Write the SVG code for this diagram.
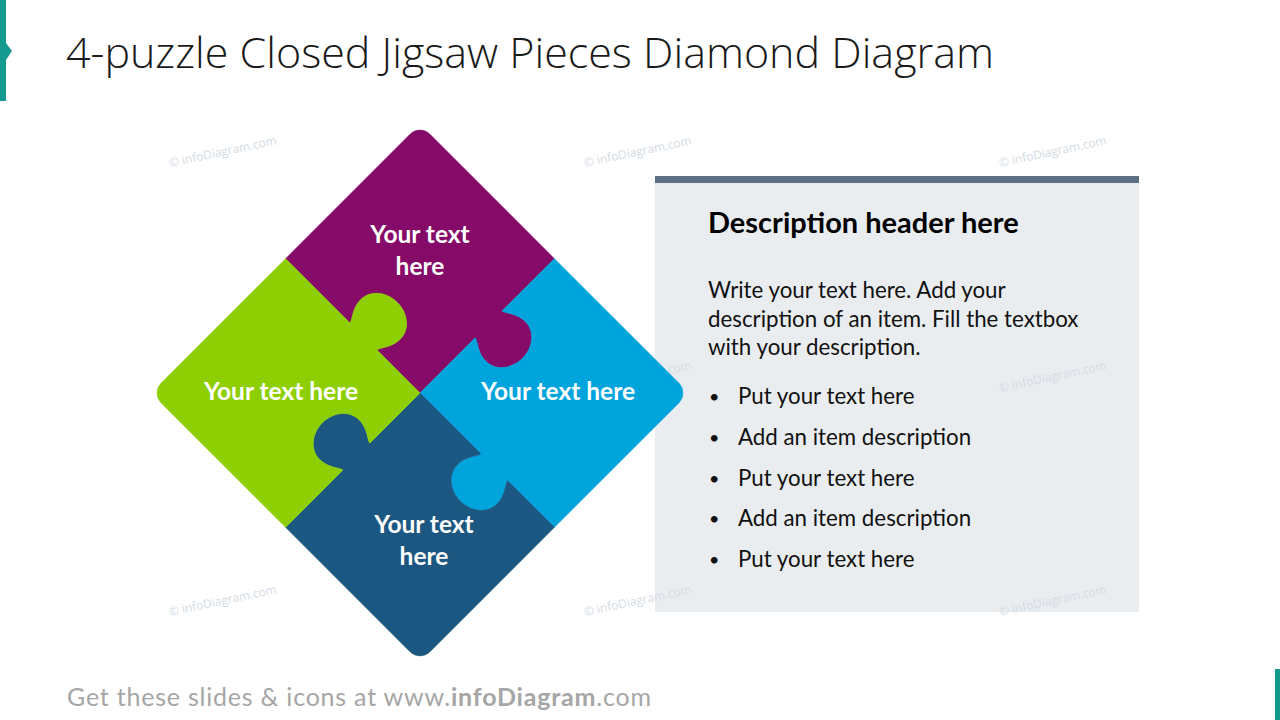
<svg xmlns="http://www.w3.org/2000/svg" width="1280" height="720" viewBox="0 0 1280 720">
  <style>
    .title { font-family: "Open Sans", "Liberation Sans", sans-serif; font-weight: 300; font-size: 43px; fill: #1a1a1a; }
    .lbl { font-family: "Lato", "Open Sans", sans-serif; font-weight: 700; font-size: 24.5px; fill: #ffffff; text-anchor: middle; }
    .hdr { font-family: "Lato", "Liberation Sans", sans-serif; font-weight: 700; font-size: 29px; fill: #000000; }
    .body { font-family: "Lato", "Liberation Sans", sans-serif; font-size: 22.3px; fill: #111111; }
    .bul { font-family: "Lato", "Liberation Sans", sans-serif; font-size: 18px; fill: #111111; }
    .wm { font-family: "Open Sans", "Liberation Sans", sans-serif; font-size: 12px; fill: #d3dbe4; }
    .foot { font-family: "Lato", "Liberation Sans", sans-serif; font-size: 25px; fill: #a6a6a6; }
    .piece { stroke-width: 0.6; stroke-linejoin: round; }
  </style>

  <rect x="0" y="0" width="1280" height="720" fill="#ffffff"/>

  <!-- accents -->
  <path d="M0,0 H6 V43 L12,51 L6,60 V101 H0 Z" fill="#159a8f"/>
  <rect x="1275" y="669" width="5" height="51" fill="#159a8f"/>

  <text class="title" x="66" y="68">4-puzzle Closed Jigsaw Pieces Diamond Diagram</text>

  <!-- description panel -->
  <g id="panel">
    <rect x="655" y="182" width="484" height="430" fill="#e9edf0"/>
    <rect x="655" y="176" width="484" height="7" fill="#5d7186"/>
  </g>

  <!-- watermarks -->
  <g id="watermarks">
    <text class="wm" transform="translate(170,167) rotate(-12)">© infoDiagram.com</text>
    <text class="wm" transform="translate(585,167) rotate(-12)">© infoDiagram.com</text>
    <text class="wm" transform="translate(1000,167) rotate(-12)">© infoDiagram.com</text>
    <text class="wm" transform="translate(585,392) rotate(-12)">© infoDiagram.com</text>
    <text class="wm" transform="translate(1000,392) rotate(-12)">© infoDiagram.com</text>
    <text class="wm" transform="translate(170,616) rotate(-12)">© infoDiagram.com</text>
    <text class="wm" transform="translate(585,616) rotate(-12)">© infoDiagram.com</text>
    <text class="wm" transform="translate(1000,616) rotate(-12)">© infoDiagram.com</text>
  </g>

  <!-- puzzle pieces -->
  <g id="puzzle" transform="translate(420,393) rotate(45)">
    <g id="piece-top">
      <path class="piece" fill="#860a68" stroke="#860a68" d="M0,0 L-61,0 C-60,-5 -52,-12 -52,-24 C-52,-38 -65,-48 -80,-48 C-95,-48 -108,-38 -108,-24 C-108,-12 -100,-5 -99,0 L-190,0 L-190,-176 A14,14 0 0 1 -176,-190 L0,-190 L0,-116 C5,-117 12,-125 24,-125 C38,-125 48,-112 48,-97 C48,-82 38,-69 24,-69 C12,-69 5,-77 0,-78 Z"/>
    </g>
    <g id="piece-right">
      <path class="piece" fill="#00a4dc" stroke="#00a4dc" d="M0,0 L0,-78 C5,-77 12,-69 24,-69 C38,-69 48,-82 48,-97 C48,-112 38,-125 24,-125 C12,-125 5,-117 0,-116 L0,-190 L176,-190 A14,14 0 0 1 190,-176 L190,0 L124,0 C125,5 133,12 133,24 C133,38 120,48 105,48 C90,48 77,38 77,24 C77,12 85,5 86,0 Z"/>
    </g>
    <g id="piece-bottom">
      <path class="piece" fill="#1c5781" stroke="#1c5781" d="M0,0 L86,0 C85,5 77,12 77,24 C77,38 90,48 105,48 C120,48 133,38 133,24 C133,12 125,5 124,0 L190,0 L190,176 A14,14 0 0 1 176,190 L0,190 L0,109 C-5,110 -12,118 -24,118 C-38,118 -48,105 -48,90 C-48,75 -38,62 -24,62 C-12,62 -5,70 0,71 Z"/>
    </g>
    <g id="piece-left">
      <path class="piece" fill="#8ecf04" stroke="#8ecf04" d="M0,0 L0,71 C-5,70 -12,62 -24,62 C-38,62 -48,75 -48,90 C-48,105 -38,118 -24,118 C-12,118 -5,110 0,109 L0,190 L-176,190 A14,14 0 0 1 -190,176 L-190,0 L-99,0 C-100,-5 -108,-12 -108,-24 C-108,-38 -95,-48 -80,-48 C-65,-48 -52,-38 -52,-24 C-52,-12 -60,-5 -61,0 Z"/>
    </g>
  </g>

  <!-- piece labels -->
  <g id="labels">
    <text class="lbl" x="420" y="243">Your text</text>
    <text class="lbl" x="420" y="275">here</text>
    <text class="lbl" x="281" y="400">Your text here</text>
    <text class="lbl" x="558" y="400">Your text here</text>
    <text class="lbl" x="424" y="533">Your text</text>
    <text class="lbl" x="424" y="565">here</text>
  </g>

  <!-- panel text -->
  <g id="panel-text">
    <text class="hdr" x="708" y="233">Description header here</text>
    <text class="body" x="708" y="298">Write your text here. Add your</text>
    <text class="body" x="708" y="327">description of an item. Fill the textbox</text>
    <text class="body" x="708" y="355">with your description.</text>
    <text class="bul" x="709" y="403">•</text>
    <text class="body" x="738" y="404">Put your text here</text>
    <text class="bul" x="709" y="444">•</text>
    <text class="body" x="738" y="445">Add an item description</text>
    <text class="bul" x="709" y="485">•</text>
    <text class="body" x="738" y="486">Put your text here</text>
    <text class="bul" x="709" y="525">•</text>
    <text class="body" x="738" y="526">Add an item description</text>
    <text class="bul" x="709" y="566">•</text>
    <text class="body" x="738" y="567">Put your text here</text>
  </g>

  <text class="foot" x="67" y="706" textLength="584" lengthAdjust="spacing">Get these slides &amp; icons at www.<tspan font-weight="700">infoDiagram</tspan>.com</text>
</svg>
